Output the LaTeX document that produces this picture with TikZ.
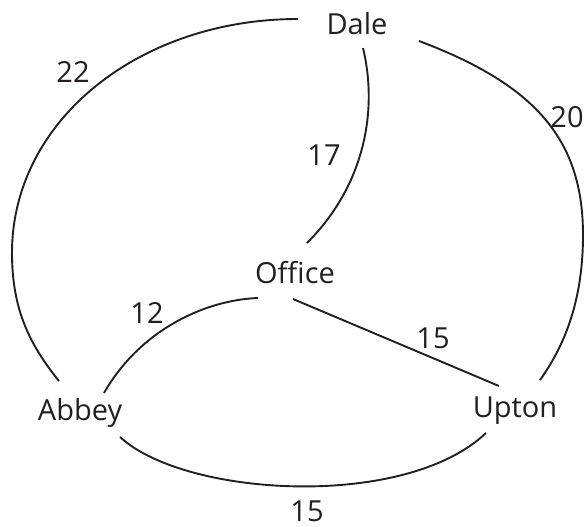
\documentclass[tikz,border=0pt]{standalone}
\usepackage{fontspec}
\setmainfont{Open Sans}
\definecolor{ink}{RGB}{35,31,32}
\begin{document}
\begin{tikzpicture}[x=1pt,y=-1pt,
  place/.style={anchor=base,inner sep=0pt,font=\fontsize{29}{34}\selectfont,text=ink},
  wlabel/.style={anchor=base,inner sep=0pt,font=\fontsize{29}{34}\selectfont,text=ink},
  road/.style={draw=ink,line width=1.9pt}]
\useasboundingbox (0,0) rectangle (584,527);
% places (positioned by baseline)
\node[place] (Dale)   at (357,35)  {Dale};
\node[place] (Office) at (295,283) {Office};
\node[place] (Abbey)  at (80,420)  {Abbey};
\node[place] (Upton)  at (515,417) {Upton};
% roads
\draw[road] ([shift={(-59,-16)}]Dale.base) .. controls (140,19) and (12,120) .. (12,253)
            .. controls (12,310) and (30,345) .. ([shift={(-21,-39)}]Abbey.base);
\draw[road] ([shift={(62,6)}]Dale.base) .. controls (536,85) and (583,140) .. (583,235)
            .. controls (583,300) and (565,345) .. ([shift={(25,-37)}]Upton.base);
\draw[road] ([shift={(6,13)}]Dale.base) .. controls (378,110) and (365,185) .. ([shift={(12,-40)}]Office.base);
\draw[road] ([shift={(-37,15)}]Office.base) .. controls (205,300) and (140,330) .. ([shift={(24,-27)}]Abbey.base);
\draw[road] ([shift={(-2,16)}]Office.base) -- ([shift={(-16,-31)}]Upton.base);
\draw[road] ([shift={(40,17)}]Abbey.base) .. controls (185,497) and (405,510) .. ([shift={(-29,16)}]Upton.base);
% distances
\node[wlabel] (l22) at (73,83)   {22};
\node[wlabel] (l20) at (567,127) {20};
\node[wlabel] (l17) at (324,165) {17};
\node[wlabel] (l12) at (147,323) {12};
\node[wlabel] (l15a) at (433,348) {15};
\node[wlabel] (l15b) at (307,521) {15};
\end{tikzpicture}
\end{document}
